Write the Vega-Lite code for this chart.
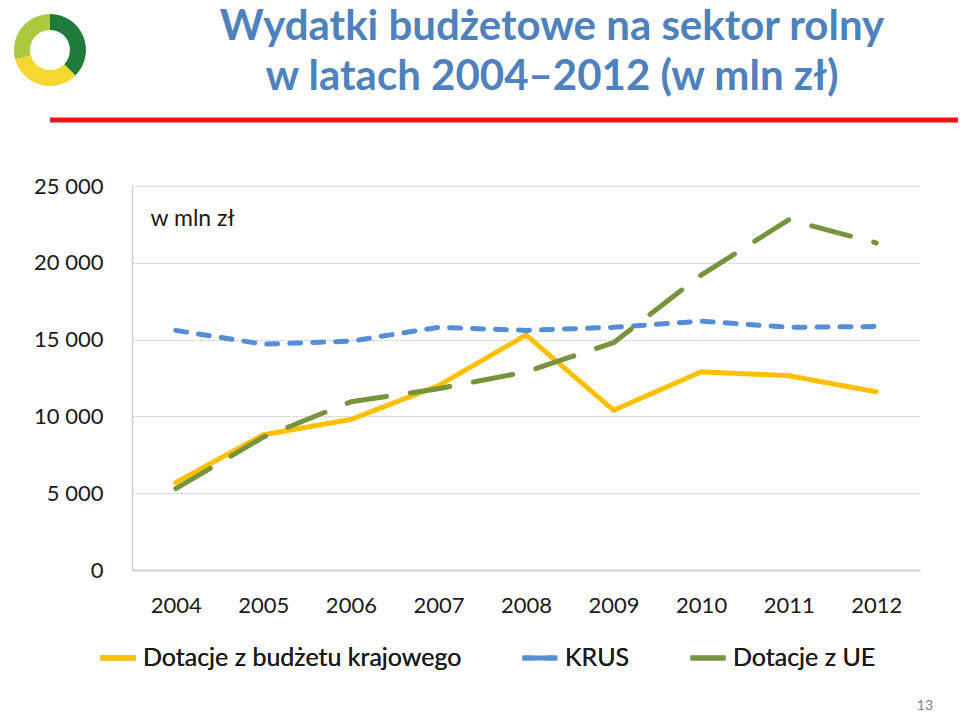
{
  "$schema": "https://vega.github.io/schema/vega-lite/v6.json",
  "width": 788,
  "height": 384,
  "autosize": {"type": "none"},
  "padding": {"left": 132, "top": 186, "right": 40, "bottom": 142},
  "background": "white",
  "title": {
    "text": ["Wydatki budżetowe na sektor rolny", "w latach 2004–2012 (w mln zł)"],
    "font": "Lato", "fontSize": 42, "fontWeight": "bold", "color": "#4F81BD",
    "lineHeight": 50, "anchor": "middle", "frame": "group", "dx": 26, "offset": -85
  },
  "config": {"view": {"stroke": null}, "font": "Lato"},
  "datasets": {
    "series": [
      {"year": 2004, "series": "Dotacje z budżetu krajowego", "value": 5700},
      {"year": 2005, "series": "Dotacje z budżetu krajowego", "value": 8800},
      {"year": 2006, "series": "Dotacje z budżetu krajowego", "value": 9800},
      {"year": 2007, "series": "Dotacje z budżetu krajowego", "value": 12000},
      {"year": 2008, "series": "Dotacje z budżetu krajowego", "value": 15300},
      {"year": 2009, "series": "Dotacje z budżetu krajowego", "value": 10400},
      {"year": 2010, "series": "Dotacje z budżetu krajowego", "value": 12900},
      {"year": 2011, "series": "Dotacje z budżetu krajowego", "value": 12650},
      {"year": 2012, "series": "Dotacje z budżetu krajowego", "value": 11600},
      {"year": 2004, "series": "KRUS", "value": 15600},
      {"year": 2005, "series": "KRUS", "value": 14700},
      {"year": 2006, "series": "KRUS", "value": 14900},
      {"year": 2007, "series": "KRUS", "value": 15800},
      {"year": 2008, "series": "KRUS", "value": 15600},
      {"year": 2009, "series": "KRUS", "value": 15800},
      {"year": 2010, "series": "KRUS", "value": 16200},
      {"year": 2011, "series": "KRUS", "value": 15800},
      {"year": 2012, "series": "KRUS", "value": 15850},
      {"year": 2004, "series": "Dotacje z UE", "value": 5300},
      {"year": 2005, "series": "Dotacje z UE", "value": 8650},
      {"year": 2006, "series": "Dotacje z UE", "value": 10950},
      {"year": 2007, "series": "Dotacje z UE", "value": 11800},
      {"year": 2008, "series": "Dotacje z UE", "value": 12900},
      {"year": 2009, "series": "Dotacje z UE", "value": 14800},
      {"year": 2010, "series": "Dotacje z UE", "value": 19200},
      {"year": 2011, "series": "Dotacje z UE", "value": 22800},
      {"year": 2012, "series": "Dotacje z UE", "value": 21300}
    ],
    "logo": [
      {"seg": "ciemny", "share": 135, "ord": 1},
      {"seg": "żółty", "share": 120, "ord": 2},
      {"seg": "jasny", "share": 105, "ord": 3}
    ]
  },
  "layer": [
    {
      "data": {"name": "series"},
      "mark": {"type": "line", "strokeWidth": 5, "strokeCap": "round", "strokeJoin": "round"},
      "encoding": {
        "x": {
          "field": "year", "type": "quantitative",
          "scale": {"domain": [2003.5, 2012.5], "nice": false, "zero": false},
          "axis": {
            "title": null, "values": [2004, 2005, 2006, 2007, 2008, 2009, 2010, 2011, 2012],
            "format": "d", "grid": false, "ticks": false, "domainColor": "#d0d0d0", "domainWidth": 2,
            "labelFontSize": 22, "labelColor": "#1a1a1a", "labelPadding": 25, "labelFont": "Lato"
          }
        },
        "y": {
          "field": "value", "type": "quantitative",
          "scale": {"domain": [0, 25000], "nice": false},
          "axis": {
            "title": "w mln zł", "titleAngle": 0, "titleX": 18, "titleY": 39,
            "titleAlign": "left", "titleBaseline": "alphabetic", "titleFontSize": 23,
            "titleFontWeight": "normal", "titleColor": "#1a1a1a", "titleFont": "Lato",
            "values": [0, 5000, 10000, 15000, 20000, 25000],
            "labelExpr": "replace(format(datum.value, ','), ',', ' ')",
            "ticks": false, "domainColor": "#d0d0d0", "domainWidth": 1.5,
            "gridColor": "#bfbfbf", "gridDash": [2, 2], "gridWidth": 1,
            "labelFontSize": 22, "labelColor": "#1a1a1a", "labelPadding": 29, "labelFont": "Lato"
          }
        },
        "color": {
          "field": "series", "type": "nominal",
          "scale": {"domain": ["Dotacje z budżetu krajowego", "KRUS", "Dotacje z UE"], "range": ["#FFC000", "#558ED5", "#77933C"]},
          "legend": {
            "title": null, "orient": "none", "direction": "horizontal", "legendX": -34, "legendY": 452,
            "symbolType": "stroke", "symbolStrokeWidth": 5, "symbolSize": 1225,
            "labelFontSize": 25, "labelColor": "#1a1a1a", "labelFont": "Lato", "labelOffset": 5,
            "columnPadding": 50, "labelLimit": 500
          }
        },
        "strokeDash": {
          "field": "series", "type": "nominal",
          "scale": {"domain": ["Dotacje z budżetu krajowego", "KRUS", "Dotacje z UE"], "range": [[1, 0], [11, 12], [40, 24]]},
          "legend": {
            "title": null, "orient": "none", "direction": "horizontal", "legendX": -34, "legendY": 452,
            "symbolType": "stroke", "symbolStrokeWidth": 5, "symbolSize": 1225,
            "labelFontSize": 25, "labelColor": "#1a1a1a", "labelFont": "Lato", "labelOffset": 5,
            "columnPadding": 50, "labelLimit": 500
          }
        }
      }
    },
    {
      "data": {"values": [{}]},
      "mark": {"type": "rule", "color": "#F01414", "strokeWidth": 5},
      "encoding": {
        "x": {"datum": 2002.564, "type": "quantitative"},
        "x2": {"datum": 2012.934},
        "y": {"datum": 29300, "type": "quantitative"}
      }
    },
    {
      "data": {"name": "logo"},
      "mark": {"type": "arc", "radius": 36, "radius2": 20},
      "encoding": {
        "x": {"datum": 2002.563, "type": "quantitative"},
        "y": {"datum": 33854, "type": "quantitative"},
        "theta": {"field": "share", "type": "quantitative", "stack": true},
        "order": {"field": "ord", "type": "quantitative"},
        "color": {
          "field": "seg", "type": "nominal",
          "scale": {"domain": ["ciemny", "żółty", "jasny"], "range": ["#1E7B3A", "#F4D831", "#A9C93E"]},
          "legend": null
        }
      }
    },
    {
      "data": {"values": [{}]},
      "mark": {"type": "text", "text": "13", "fontSize": 14, "color": "#808080", "align": "center", "baseline": "middle", "font": "Lato"},
      "encoding": {
        "x": {"datum": 2012.557, "type": "quantitative"},
        "y": {"datum": -8850, "type": "quantitative"}
      }
    }
  ],
  "resolve": {"scale": {"color": "independent"}}
}
